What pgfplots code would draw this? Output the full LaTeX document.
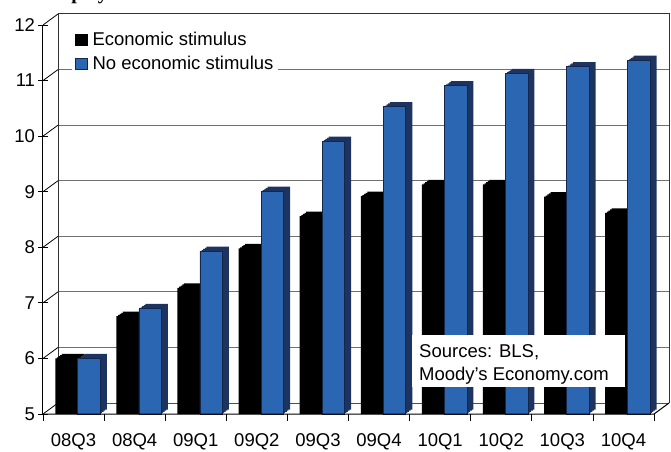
\documentclass[border=0pt]{standalone}
\usepackage{pgfplots}
\pgfplotsset{compat=1.18}
\usepackage{pgfplotstable}
\usepackage{fontspec}
\setmainfont{Liberation Sans}
\newfontfamily\titlefont{Liberation Serif}
\definecolor{barblue}{HTML}{2A66B1}
\definecolor{sideblue}{HTML}{1D3461}
\definecolor{edgeblue}{HTML}{16264A}
\definecolor{gridgray}{HTML}{707070}
\newcommand\fs{\fontsize{18.5}{22}\selectfont}

\pgfplotstableread{
x stim nostim
0 6.00 6.00
1 6.76 6.90
2 7.27 7.93
3 7.98 9.01
4 8.56 9.91
5 8.92 10.53
6 9.13 10.91
7 9.13 11.13
8 8.91 11.25
9 8.62 11.37
}\datatable

\begin{document}
\begin{tikzpicture}
\useasboundingbox (-43pt,-37pt) rectangle (628pt,414pt);
% ---- back wall, grid (image pixel coordinates)
\begin{scope}[x=1pt,y=-1pt,shift={(-43pt,414pt)}]
  \foreach \v in {6,...,11} {
    \draw[gridgray, line width=1pt] (58,{414-(\v-5)*55.571-11}) -- (669,{414-(\v-5)*55.571-11});
  }
  \foreach \v in {5,...,12} {
    \draw[black, line width=0.8pt] (43,{414-(\v-5)*55.571}) -- (58,{414-(\v-5)*55.571-11});
  }
  \draw[gridgray!70!black, line width=1pt] (58,403) -- (669,403);
  \draw[black!80, line width=1pt] (58,403) -- (58,14) -- (669,14) -- (669,403);
\end{scope}

\begin{axis}[
  at={(0pt,0pt)}, anchor=south west,
  scale only axis,
  width=629.3pt, height=389pt,
  xmin=-0.5, xmax=9.8,
  ymin=5, ymax=12,
  axis lines*=left,
  axis line style={draw=none},
  ytick={5,...,12},
  xtick={0,...,9},
  xticklabels={08Q3,08Q4,09Q1,09Q2,09Q3,09Q4,10Q1,10Q2,10Q3,10Q4},
  xtick style={draw=none},
  ytick style={black, line width=0.8pt},
  tick align=center,
  major tick length=9pt,
  /pgf/number format/assume math mode=true,
  ticklabel style={font=\fs},
  xticklabel style={inner sep=0pt, yshift=-10.5pt},
  ybar,
  bar width=22.5pt,
  legend cell align=left,
  legend style={at={(axis description cs:0.046,0.995)}, anchor=north west,
    draw=none, fill=white, font=\fs, inner sep=3pt, row sep=5pt},
  legend image code/.code={\draw[#1] (0pt,-5.5pt) rectangle (11.5pt,5.5pt);
    \path[draw=none, fill=none] (0pt,0pt) -- (15pt,0pt);},
]
\pgfplotsinvokeforeach{0.25,0.5,0.75,1}{
  \addplot[forget plot, fill=black, draw=none, bar shift=-7pt, xshift=#1*6.5pt, yshift=#1*4.5pt]
    table[x=x,y=stim]{\datatable};
}
\addplot[fill=black, draw=none, bar shift=-7pt] table[x=x,y=stim]{\datatable};
\addlegendentry{Economic stimulus}
\pgfplotsinvokeforeach{0.25,0.5,0.75,1}{
  \addplot[forget plot, fill=sideblue, draw=none, bar shift=15.5pt, xshift=#1*6.5pt, yshift=#1*4.5pt]
    table[x=x,y=nostim]{\datatable};
}
\addplot[fill=barblue, draw=edgeblue, line width=0.7pt, bar shift=15.5pt] table[x=x,y=nostim]{\datatable};
\addlegendentry{No economic stimulus\hspace{8pt}}
\end{axis}

% ---- front frame, ticks, notes
\begin{scope}[x=1pt,y=-1pt,shift={(-43pt,414pt)}]
  \draw[black, line width=1pt] (43,414) -- (654,414) -- (669,403);
  \draw[black, line width=1pt] (43,414) -- (43,25);
  \foreach \i in {0,...,10} {
    \draw[black, line width=0.8pt] ({43+61.1*\i},414) -- ({43+61.1*\i},421);
  }
  \fill[white] (412,335) rectangle (625,387);
  \node[anchor=base west, font=\fs, inner sep=0pt] at (419,357) {Sources: BLS,};
  \node[anchor=base west, font=\fs, inner sep=0pt] at (419,380) {Moody’s Economy.com};
  \node[anchor=base west, font=\titlefont\bfseries\fontsize{20}{24}\selectfont, inner sep=0pt] at (20,0) {Unemployment rate};
\end{scope}
\end{tikzpicture}
\end{document}
